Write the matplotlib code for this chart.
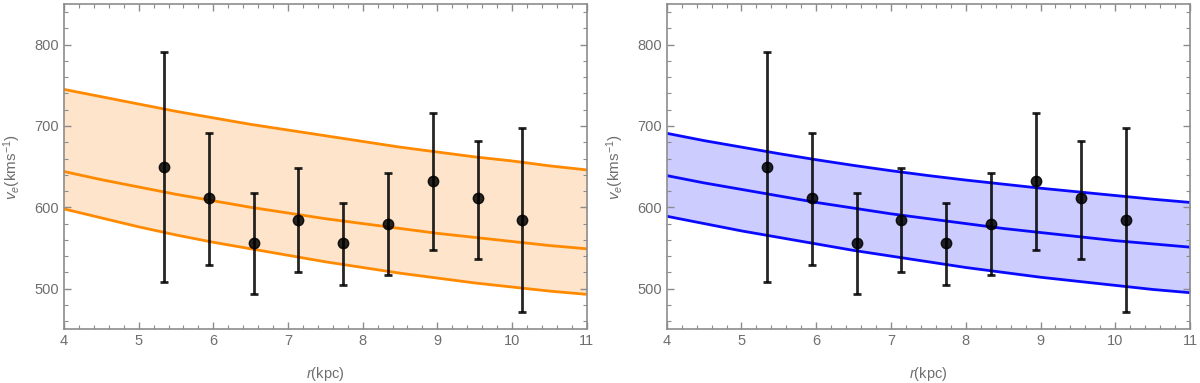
import matplotlib
matplotlib.use("Agg")
import matplotlib.pyplot as plt
import numpy as np
from matplotlib.ticker import MultipleLocator

# data points with asymmetric error bars
r_pts = [5.34, 5.94, 6.54, 7.14, 7.74, 8.34, 8.94, 9.54, 10.14]
v_pts = [649, 611, 556, 584, 556, 580, 632, 611, 584]
v_hi = [791, 691, 617, 648, 605, 642, 716, 682, 698]
v_lo = [508, 529, 493, 521, 505, 517, 548, 537, 471]

# model curves
r_curve = [4, 4.5, 5, 5.5, 6, 6.5, 7, 7.5, 8, 8.5, 9, 9.5, 10, 10.5, 11]
orange_upper = [745, 736, 727, 718, 710, 702, 695, 688, 681, 674, 668, 662, 657, 651, 646]
orange_mid = [644, 634, 625, 616, 608, 600, 593, 586, 580, 574, 568, 563, 558, 553, 549]
orange_lower = [598, 587, 576, 566, 557, 549, 541, 533, 526, 519, 513, 507, 502, 497, 493]
blue_upper = [691, 682, 674, 666, 658.5, 651.5, 645, 639, 633.5, 628.5, 623.5, 619, 614.5, 610, 606]
blue_mid = [639, 630, 622, 614, 606, 599, 592, 586, 580, 574, 569, 564, 559, 555, 551]
blue_lower = [589, 580, 571, 563, 555, 547, 540, 533, 526, 520, 514, 509, 504, 499, 495]

plt.rcParams['font.family'] = ['Liberation Sans', 'DejaVu Sans']
plt.rcParams['mathtext.fontset'] = 'custom'
plt.rcParams['mathtext.it'] = 'Liberation Sans:italic'
plt.rcParams['mathtext.rm'] = 'Liberation Sans'

fig = plt.figure(figsize=(12, 3.83), dpi=100)
ax1 = fig.add_axes([0.0533, 0.1402, 0.4356, 0.8494])
ax2 = fig.add_axes([0.5556, 0.1402, 0.4361, 0.8494])

frame_col = '#8c8c8c'
label_col = '#6e6e6e'

panels = [
    (ax1, orange_upper, orange_mid, orange_lower, '#ff8a00', '#ffe4cc'),
    (ax2, blue_upper, blue_mid, blue_lower, '#0a0aff', '#ccccff'),
]

yerr = [np.array(v_pts) - np.array(v_lo), np.array(v_hi) - np.array(v_pts)]

for ax, up, mid, lo, lc, fc in panels:
    ax.fill_between(r_curve, lo, up, color=fc, lw=0, zorder=1)
    for c in (up, mid, lo):
        ax.plot(r_curve, c, color=lc, lw=2, zorder=2)
    ax.errorbar(r_pts, v_pts, yerr=yerr, fmt='o', color='black', alpha=0.85,
                ms=7.5, elinewidth=2, capsize=3, capthick=2, zorder=3)

    ax.set_xlim(4, 11)
    ax.set_ylim(450, 850)
    ax.xaxis.set_major_locator(MultipleLocator(1))
    ax.xaxis.set_minor_locator(MultipleLocator(0.2))
    ax.yaxis.set_major_locator(MultipleLocator(100))
    ax.yaxis.set_minor_locator(MultipleLocator(20))
    ax.set_yticks([500, 600, 700, 800])
    ax.tick_params(which='both', direction='in', top=True, right=True,
                   color=frame_col, labelcolor=label_col, labelsize=10.5)
    ax.tick_params(which='major', length=5, width=1)
    ax.tick_params(which='minor', length=3, width=0.8)
    for s in ax.spines.values():
        s.set_color(frame_col)
        s.set_linewidth(1.2)
    ax.set_xlabel(r'$r$(kpc)', color=label_col, fontsize=10.5, labelpad=12)
    ax.set_ylabel(r'$v_e$(kms$^{-1}$)', color=label_col, fontsize=11, labelpad=8)

fig.savefig('out.png', dpi=100)
